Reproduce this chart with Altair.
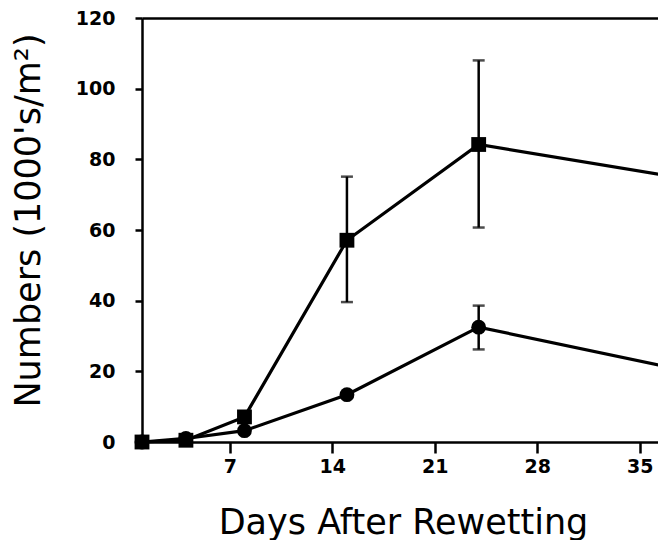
import altair as alt
import pandas as pd

days = [1, 4, 8, 15, 24, 37]
squares = [0.0, 0.5, 7.1, 57.1, 84.2, 75.3]
circles = [0.0, 1.0, 3.2, 13.4, 32.5, 21.2]
sq_err_days = [15, 24, 37]
sq_err_lo = [39.6, 60.7, 60.7]
sq_err_hi = [75.1, 108.0, 91.0]
ci_err_days = [24, 37]
ci_err_lo = [26.2, 16.7]
ci_err_hi = [38.6, 25.2]
x_ticks = [7, 14, 21, 28, 35]
y_ticks = [0, 20, 40, 60, 80, 100, 120]

pts = pd.DataFrame({
    "day": days * 2,
    "value": squares + circles,
    "series": ["sq"] * len(days) + ["ci"] * len(days),
})
err = pd.DataFrame({
    "day": sq_err_days + ci_err_days,
    "lo": sq_err_lo + ci_err_lo,
    "hi": sq_err_hi + ci_err_hi,
})

W, H = 516, 424
FONT = "DejaVu Sans"
xscale = alt.Scale(domain=[1, 36.25], nice=False, zero=False)
yscale = alt.Scale(domain=[0, 120], nice=False)

x_axis = alt.Axis(
    values=x_ticks, title="Days After Rewetting", grid=False,
    domainColor="black", domainWidth=2.5, tickColor="black", tickWidth=2.5,
    tickSize=11, labelFont=FONT, labelFontWeight="bold", labelFontSize=19,
    labelColor="black", labelPadding=4, labelFlush=False,
    titleFont=FONT, titleFontSize=35, titleFontWeight="normal",
    titleColor="black", titleX=261, titleY=91, titleAlign="center",
    titleBaseline="alphabetic",
)
y_axis = alt.Axis(
    values=y_ticks, title="Numbers (1000's/m²)", grid=False,
    domainColor="black", domainWidth=2.5, tickColor="black", tickWidth=2.5,
    tickSize=7, labelFont=FONT, labelFontWeight="bold", labelFontSize=19,
    labelColor="black", labelPadding=20, labelAlign="right",
    labelBaseline="middle", labelFlush=False,
    titleFont=FONT, titleFontSize=35, titleFontWeight="normal",
    titleColor="black", titleX=-114, titleY=202, titleAngle=270,
    titleAlign="center", titleBaseline="middle",
)
top_axis = alt.Axis(
    orient="top", labels=False, ticks=False, title=None, grid=False,
    domainColor="black", domainWidth=2.5,
)

lines = alt.Chart(pts).mark_line(color="black", strokeWidth=3.2).encode(
    x=alt.X("day:Q", scale=xscale, axis=x_axis),
    y=alt.Y("value:Q", scale=yscale, axis=y_axis),
    detail="series:N",
)
points = alt.Chart(pts).mark_point(filled=True, opacity=1, color="black", size=220).encode(
    x=alt.X("day:Q", scale=xscale, axis=None),
    y=alt.Y("value:Q", scale=yscale, axis=y_axis),
    shape=alt.Shape("series:N", scale=alt.Scale(domain=["sq", "ci"], range=["square", "circle"]), legend=None),
)
rules = alt.Chart(err).mark_rule(color="black", strokeWidth=2.5).encode(
    x=alt.X("day:Q", scale=xscale, axis=None),
    y=alt.Y("lo:Q", scale=yscale, axis=y_axis),
    y2="hi:Q",
)
caps_lo = alt.Chart(err).mark_tick(color="black", orient="horizontal", size=12, thickness=2.5).encode(
    x=alt.X("day:Q", scale=xscale, axis=None),
    y=alt.Y("lo:Q", scale=yscale, axis=y_axis),
)
caps_hi = alt.Chart(err).mark_tick(color="black", orient="horizontal", size=12, thickness=2.5).encode(
    x=alt.X("day:Q", scale=xscale, axis=None),
    y=alt.Y("hi:Q", scale=yscale, axis=y_axis),
)
frame_top = alt.Chart(pts).mark_point(opacity=0).encode(
    x=alt.X("day:Q", scale=xscale, axis=top_axis),
    y=alt.Y("value:Q", scale=yscale, axis=y_axis),
)

chart = alt.layer(lines, rules, caps_lo, caps_hi, points, frame_top).resolve_axis(
    x="independent"
).properties(
    width=W, height=H,
    autosize=alt.AutoSizeParams(type="none"),
    padding={"left": 134, "top": 10, "right": 0, "bottom": 98},
    background="white",
).configure_view(stroke=None)

chart.save("out.html", embed_options={"renderer": "svg", "actions": False})
